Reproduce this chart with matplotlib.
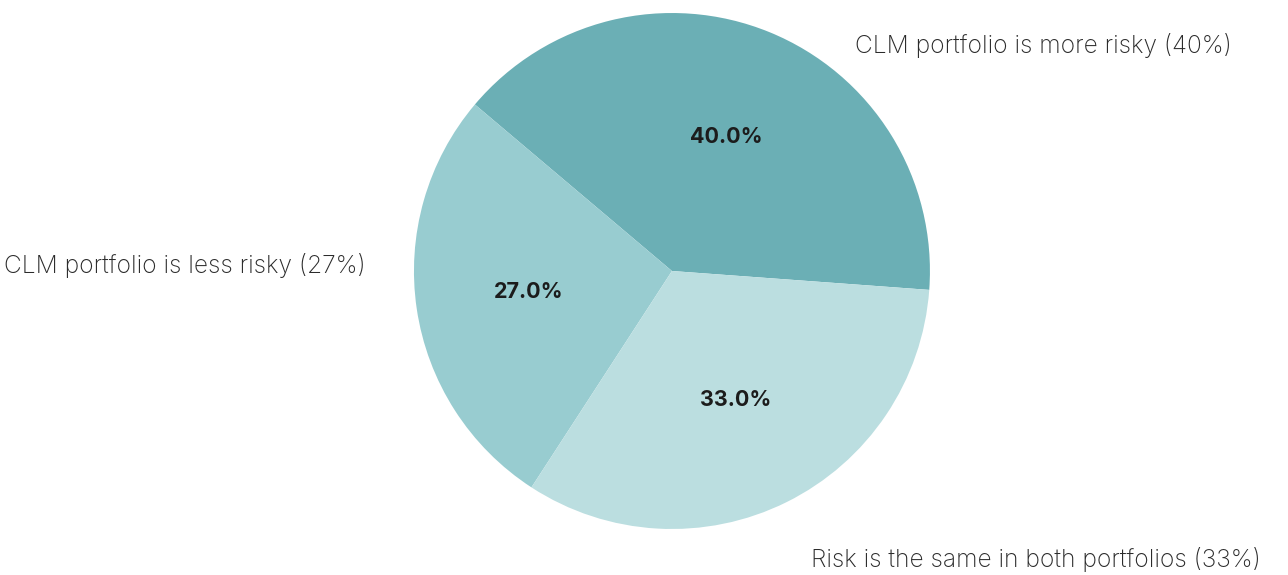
import matplotlib
matplotlib.use("Agg")
import matplotlib.pyplot as plt

# data
categories = ["CLM portfolio is more risky", "CLM portfolio is less risky",
              "Risk is the same in both portfolios"]
shares = [40, 27, 33]
colors = ["#6BAFB5", "#98CCD0", "#BBDEE0"]

plt.rcParams['font.family'] = ['Inter', 'DejaVu Sans']

fig = plt.figure(figsize=(12.88, 5.75), dpi=100)
ax = fig.add_axes([0.3214, 0.08, 0.4006, 0.8974])

wedges, texts, autotexts = ax.pie(
    shares, colors=colors, startangle=-4.2, counterclock=True,
    autopct='%1.1f%%', pctdistance=0.56, radius=1.0,
    wedgeprops=dict(linewidth=0),
    textprops=dict(fontsize=15.5, fontweight='bold', color='#1c1c1c'))

ax.set_xlim(-1, 1)
ax.set_ylim(-1, 1)
ax.set_aspect('equal')
ax.axis('off')

# outside labels
label_pos = [(0.709, 0.876, 'left'), (-1.186, 0.023, 'right'), (0.539, -1.12, 'left')]
for name, val, (x, y, ha) in zip(categories, shares, label_pos):
    ax.text(x, y, f"{name} ({val}%)", ha=ha, va='center', fontsize=17.7,
            fontweight='light', color='#2b2b2b', clip_on=False)

fig.savefig("out.png", dpi=100)
